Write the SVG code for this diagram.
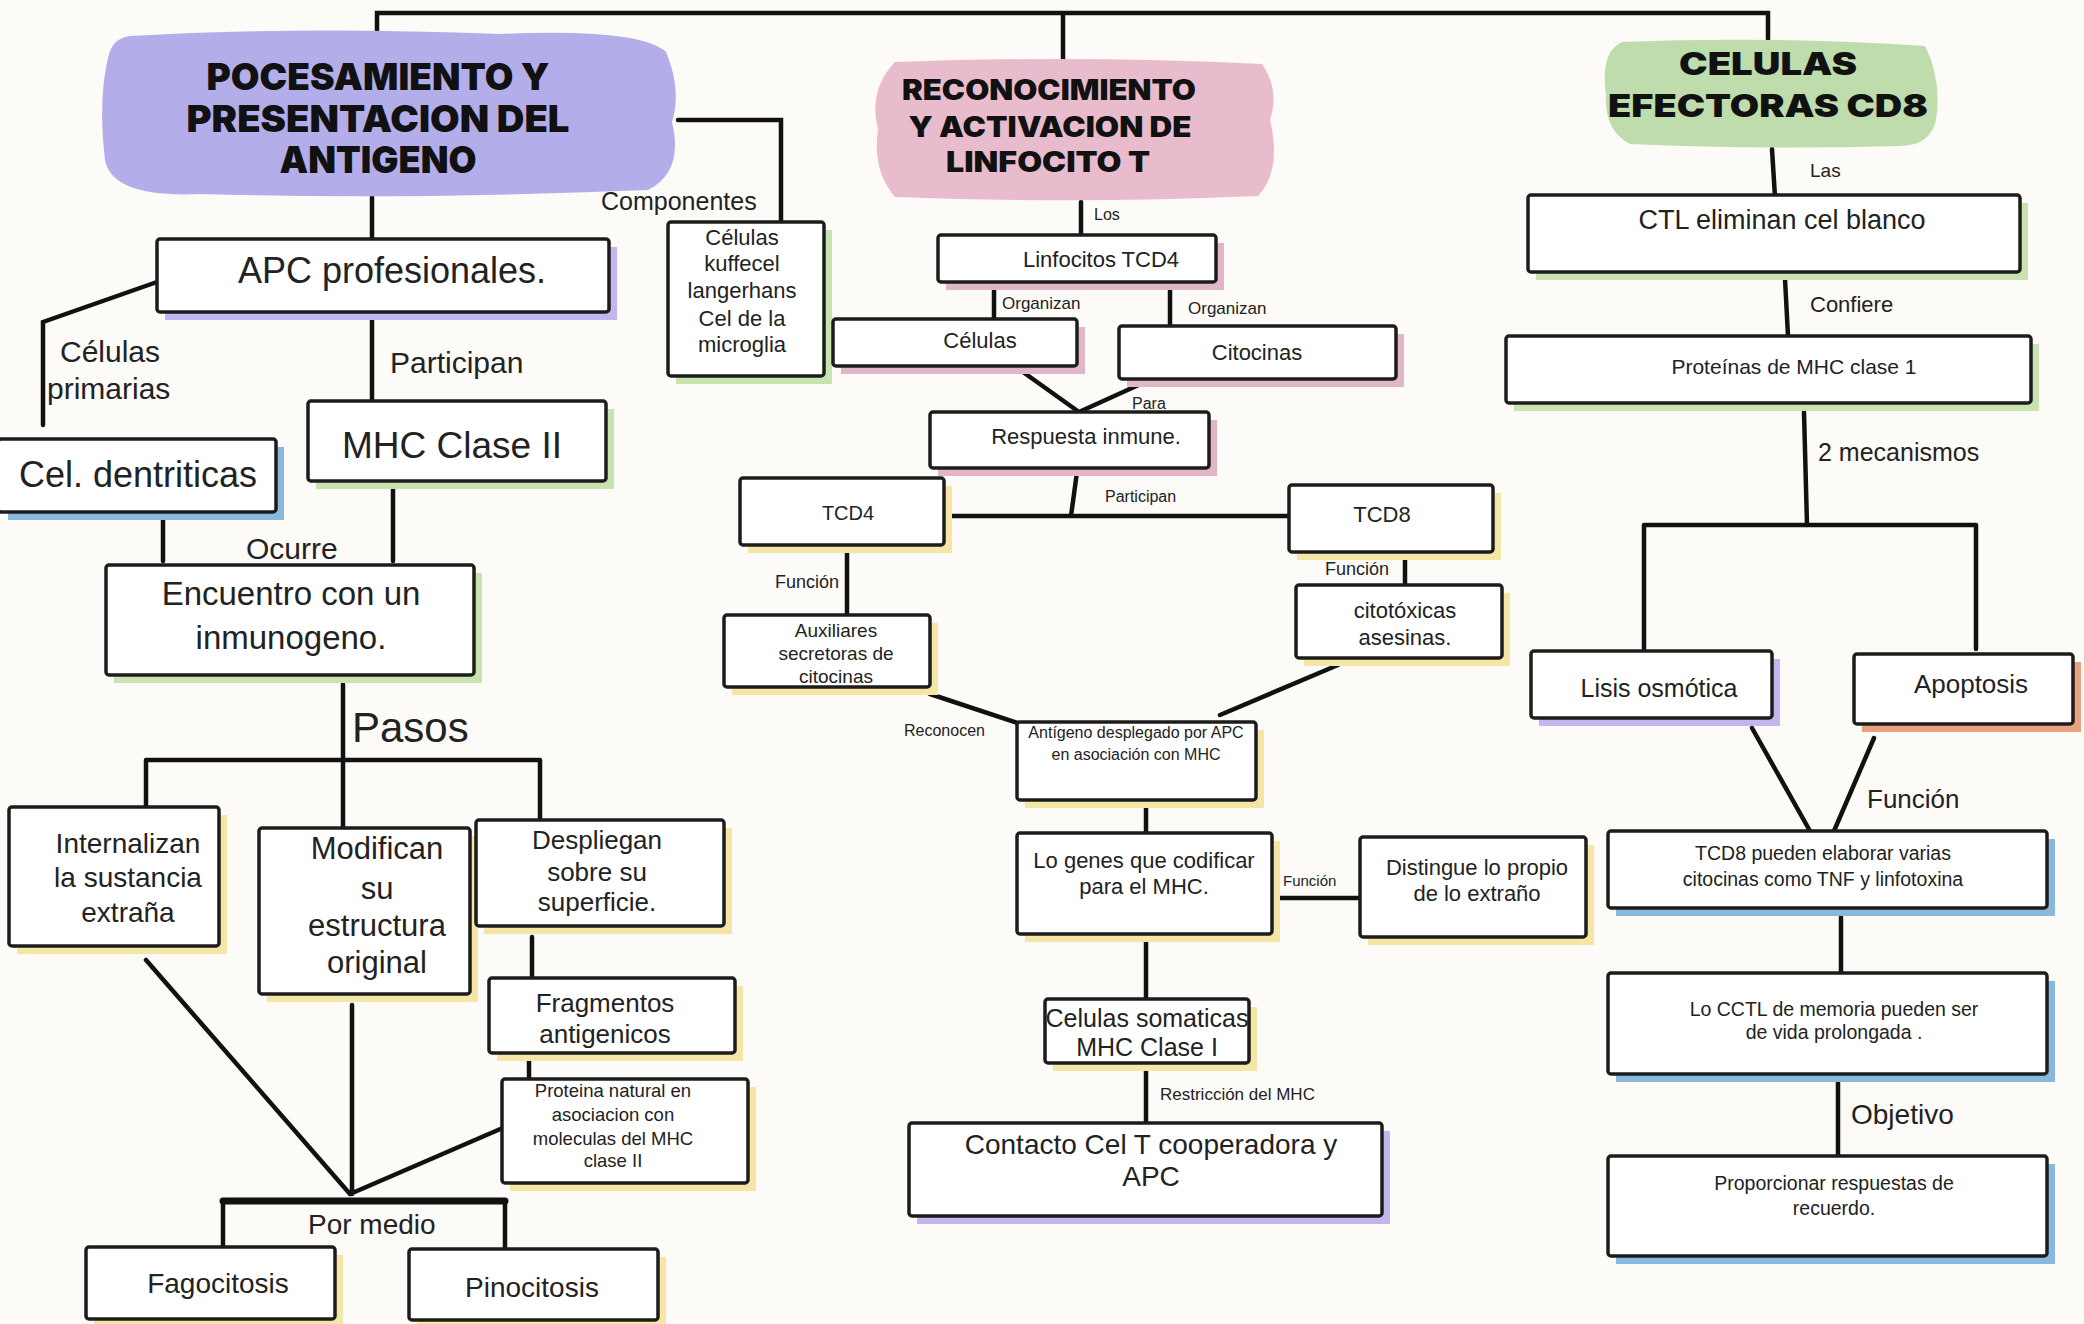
<svg xmlns="http://www.w3.org/2000/svg" width="2084" height="1324" viewBox="0 0 2084 1324">
<style>
.bg{fill:#fcfbf7}
.bx{fill:#ffffff;stroke:#1c1c1c;stroke-width:3.5;stroke-linejoin:round}
.sp{fill:#c3b6ee}.sg{fill:#c8e2b0}.sb{fill:#88b9dc}.sy{fill:#f5e6a6}.sk{fill:#e2b6c9}.so{fill:#e9a27f}
.t{font-family:"Liberation Sans",Arial,sans-serif;fill:#222;text-anchor:middle}
.l{font-family:"Liberation Sans",Arial,sans-serif;fill:#222}
.h{font-family:Inter,"DejaVu Sans",sans-serif;font-weight:900;fill:#111;text-anchor:middle}
.c{fill:none;stroke:#111;stroke-width:4.5;stroke-linecap:round;stroke-linejoin:miter}
</style>
<rect class="bg" x="0" y="0" width="2084" height="1324"/>

<g id="connectors">
<path class="c" d="M377 40 V13 H1768 V42 M1063 13 V60"/>
<path class="c" d="M372 197 V239 M678 120 H781 V222"/>
<path class="c" d="M157 282 L43 322 V425 M372 315 V399"/>
<path class="c" d="M163 516 V561 M393 485 V561"/>
<path class="c" d="M343 684 V760 M146 760 H540 M146 760 V811 M343 760 V831 M540 760 V821"/>
<path class="c" d="M532 937 V980 M529 1057 V1080"/>
<path class="c" d="M146 960 L350 1194 M352 1005 V1194 M505 1127 L350 1194"/>
<path class="c" d="M223 1201 H505" style="stroke-width:7"/>
<path class="c" d="M223 1201 V1249 M505 1201 V1252"/>
<path class="c" d="M1081 202 V237 M994 284 V322 M1170 284 V328"/>
<path class="c" d="M1023 372 L1079 412 M1143 383 L1079 412"/>
<path class="c" d="M1077 472 L1071 516 M944 516 H1289"/>
<path class="c" d="M847 552 V615 M1405 556 V585"/>
<path class="c" d="M930 694 L1021 724 M1338 665 L1220 715"/>
<path class="c" d="M1146 804 V835 M1276 898 H1362 M1146 941 V1001 M1146 1070 V1123"/>
<path class="c" d="M1772 149 L1775 197 M1785 279 L1788 336 M1804 412 L1807 525"/>
<path class="c" d="M1644 525 H1976 M1644 525 V649 M1976 525 V649"/>
<path class="c" d="M1752 728 L1810 831 M1874 738 L1834 831"/>
<path class="c" d="M1841 917 V974 M1838 1079 V1157"/>
</g>

<g id="labels">
<text class="l" x="601" y="210" font-size="25">Componentes</text>
<text class="l" x="60" y="362" font-size="30">Células</text>
<text class="l" x="47" y="399" font-size="30">primarias</text>
<text class="l" x="390" y="373" font-size="30">Participan</text>
<text class="l" x="246" y="559" font-size="30">Ocurre</text>
<text class="l" x="352" y="742" font-size="42">Pasos</text>
<text class="l" x="308" y="1234" font-size="28">Por medio</text>
<text class="l" x="1094" y="220" font-size="16">Los</text>
<text class="l" x="1002" y="309" font-size="17">Organizan</text>
<text class="l" x="1188" y="314" font-size="17">Organizan</text>
<text class="l" x="1132" y="409" font-size="16">Para</text>
<text class="l" x="1105" y="502" font-size="16">Participan</text>
<text class="l" x="775" y="588" font-size="18">Función</text>
<text class="l" x="1325" y="575" font-size="18">Función</text>
<text class="l" x="904" y="736" font-size="16">Reconocen</text>
<text class="l" x="1283" y="886" font-size="15">Función</text>
<text class="l" x="1160" y="1100" font-size="17">Restricción del MHC</text>
<text class="l" x="1810" y="177" font-size="19">Las</text>
<text class="l" x="1810" y="312" font-size="22">Confiere</text>
<text class="l" x="1818" y="461" font-size="25">2 mecanismos</text>
<text class="l" x="1867" y="808" font-size="26">Función</text>
<text class="l" x="1851" y="1124" font-size="28">Objetivo</text>
</g>

<g id="title1">
<path d="M130 36 Q300 26 500 34 Q640 28 666 52 Q682 90 672 122 Q684 172 648 190 Q400 200 200 194 Q112 198 105 160 Q98 100 108 58 Q112 38 130 36 Z" fill="#b3aee9"/>
<text class="h" x="378" y="90" font-size="37" textLength="343" lengthAdjust="spacingAndGlyphs">POCESAMIENTO Y</text>
<text class="h" x="378" y="132" font-size="37" textLength="383" lengthAdjust="spacingAndGlyphs">PRESENTACION DEL</text>
<text class="h" x="378" y="173" font-size="37" textLength="197" lengthAdjust="spacingAndGlyphs">ANTIGENO</text>
</g>
<g id="title2">
<path d="M895 62 Q1080 55 1262 64 Q1280 90 1270 120 Q1282 170 1258 196 Q1080 204 895 197 Q872 170 878 130 Q868 90 895 62 Z" fill="#e9bccd"/>
<text class="h" x="1049" y="100" font-size="28" textLength="294" lengthAdjust="spacingAndGlyphs">RECONOCIMIENTO</text>
<text class="h" x="1050" y="137" font-size="28" textLength="283" lengthAdjust="spacingAndGlyphs">Y ACTIVACION DE</text>
<text class="h" x="1048" y="172" font-size="28" textLength="204" lengthAdjust="spacingAndGlyphs">LINFOCITO T</text>
</g>
<g id="title3">
<path d="M1622 42 Q1770 36 1925 46 Q1942 80 1936 120 Q1930 146 1900 146 Q1760 150 1630 144 Q1604 130 1606 95 Q1600 52 1622 42 Z" fill="#bedcac"/>
<text class="h" x="1768" y="75" font-size="31" textLength="178" lengthAdjust="spacingAndGlyphs">CELULAS</text>
<text class="h" x="1768" y="117" font-size="31" textLength="320" lengthAdjust="spacingAndGlyphs">EFECTORAS CD8</text>
</g>

<g id="apc"><rect class="sp" x="165" y="247" width="452" height="73"/><rect class="bx" x="157" y="239" width="452" height="73" rx="3"/><text class="t" x="392" y="283" font-size="36">APC profesionales.</text></g>
<g id="dentriticas"><rect class="sb" x="8" y="447" width="276" height="73"/><rect class="bx" x="-2" y="439" width="278" height="73" rx="3"/><text class="t" x="138" y="487" font-size="36">Cel. dentriticas</text></g>
<g id="mhc2"><rect class="sg" x="316" y="409" width="298" height="80"/><rect class="bx" x="308" y="401" width="298" height="80" rx="3"/><text class="t" x="452" y="458" font-size="37">MHC Clase II</text></g>
<g id="encuentro"><rect class="sg" x="114" y="573" width="368" height="110"/><rect class="bx" x="106" y="565" width="368" height="110" rx="3"/><text class="t" x="291" y="605" font-size="33">Encuentro con un</text><text class="t" x="291" y="649" font-size="33">inmunogeno.</text></g>
<g id="internalizan"><rect class="sy" x="17" y="815" width="210" height="139"/><rect class="bx" x="9" y="807" width="210" height="139" rx="3"/><text class="t" x="128" y="853" font-size="28">Internalizan</text><text class="t" x="128" y="887" font-size="28">la sustancia</text><text class="t" x="128" y="922" font-size="28">extraña</text></g>
<g id="modifican"><rect class="sy" x="267" y="836" width="211" height="166"/><rect class="bx" x="259" y="828" width="211" height="166" rx="3"/><text class="t" x="377" y="859" font-size="31">Modifican</text><text class="t" x="377" y="899" font-size="31">su</text><text class="t" x="377" y="936" font-size="31">estructura</text><text class="t" x="377" y="973" font-size="31">original</text></g>
<g id="despliegan"><rect class="sy" x="484" y="828" width="248" height="106"/><rect class="bx" x="476" y="820" width="248" height="106" rx="3"/><text class="t" x="597" y="849" font-size="26">Despliegan</text><text class="t" x="597" y="881" font-size="26">sobre su</text><text class="t" x="597" y="911" font-size="26">superficie.</text></g>
<g id="fragmentos"><rect class="sy" x="497" y="986" width="246" height="75"/><rect class="bx" x="489" y="978" width="246" height="75" rx="3"/><text class="t" x="605" y="1012" font-size="26">Fragmentos</text><text class="t" x="605" y="1043" font-size="26">antigenicos</text></g>
<g id="proteina"><rect class="sy" x="510" y="1087" width="246" height="104"/><rect class="bx" x="502" y="1079" width="246" height="104" rx="3"/><text class="t" x="613" y="1097" font-size="18.5">Proteina natural en</text><text class="t" x="613" y="1121" font-size="18.5">asociacion con</text><text class="t" x="613" y="1145" font-size="18.5">moleculas del MHC</text><text class="t" x="613" y="1167" font-size="18.5">clase II</text></g>
<g id="fagocitosis"><rect class="sy" x="94" y="1255" width="249" height="72"/><rect class="bx" x="86" y="1247" width="249" height="72" rx="3"/><text class="t" x="218" y="1293" font-size="28">Fagocitosis</text></g>
<g id="pinocitosis"><rect class="sy" x="417" y="1257" width="249" height="71"/><rect class="bx" x="409" y="1249" width="249" height="71" rx="3"/><text class="t" x="532" y="1297" font-size="28">Pinocitosis</text></g>
<g id="componentes"><rect class="sg" x="676" y="230" width="156" height="154"/><rect class="bx" x="668" y="222" width="156" height="154" rx="3"/><text class="t" x="742" y="245" font-size="22">Células</text><text class="t" x="742" y="271" font-size="22">kuffecel</text><text class="t" x="742" y="298" font-size="22">langerhans</text><text class="t" x="742" y="326" font-size="22">Cel de la</text><text class="t" x="742" y="352" font-size="22">microglia</text></g>

<g id="linfocitos"><rect class="sk" x="946" y="243" width="278" height="47"/><rect class="bx" x="938" y="235" width="278" height="47" rx="3"/><text class="t" x="1101" y="267" font-size="22">Linfocitos TCD4</text></g>
<g id="celulas"><rect class="sk" x="841" y="327" width="244" height="47"/><rect class="bx" x="833" y="319" width="244" height="47" rx="3"/><text class="t" x="980" y="348" font-size="22">Células</text></g>
<g id="citocinas"><rect class="sk" x="1127" y="334" width="277" height="53"/><rect class="bx" x="1119" y="326" width="277" height="53" rx="3"/><text class="t" x="1257" y="360" font-size="22">Citocinas</text></g>
<g id="respuesta"><rect class="sk" x="938" y="420" width="279" height="56"/><rect class="bx" x="930" y="412" width="279" height="56" rx="3"/><text class="t" x="1086" y="444" font-size="22">Respuesta inmune.</text></g>
<g id="tcd4"><rect class="sy" x="748" y="486" width="204" height="67"/><rect class="bx" x="740" y="478" width="204" height="67" rx="3"/><text class="t" x="848" y="520" font-size="20">TCD4</text></g>
<g id="tcd8"><rect class="sy" x="1297" y="493" width="204" height="67"/><rect class="bx" x="1289" y="485" width="204" height="67" rx="3"/><text class="t" x="1382" y="522" font-size="22">TCD8</text></g>
<g id="auxiliares"><rect class="sy" x="732" y="623" width="206" height="72"/><rect class="bx" x="724" y="615" width="206" height="72" rx="3"/><text class="t" x="836" y="637" font-size="19">Auxiliares</text><text class="t" x="836" y="660" font-size="19">secretoras de</text><text class="t" x="836" y="683" font-size="19">citocinas</text></g>
<g id="citotoxicas"><rect class="sy" x="1304" y="593" width="206" height="73"/><rect class="bx" x="1296" y="585" width="206" height="73" rx="3"/><text class="t" x="1405" y="618" font-size="22">citotóxicas</text><text class="t" x="1405" y="645" font-size="22">asesinas.</text></g>
<g id="antigeno"><rect class="sy" x="1025" y="730" width="239" height="78"/><rect class="bx" x="1017" y="722" width="239" height="78" rx="3"/><text class="t" x="1136" y="738" font-size="16">Antígeno desplegado por APC</text><text class="t" x="1136" y="760" font-size="16">en asociación con MHC</text></g>
<g id="genes"><rect class="sy" x="1025" y="841" width="255" height="101"/><rect class="bx" x="1017" y="833" width="255" height="101" rx="3"/><text class="t" x="1144" y="868" font-size="22">Lo genes que codificar</text><text class="t" x="1144" y="894" font-size="22">para el MHC.</text></g>
<g id="distingue"><rect class="sy" x="1368" y="845" width="226" height="100"/><rect class="bx" x="1360" y="837" width="226" height="100" rx="3"/><text class="t" x="1477" y="875" font-size="22">Distingue lo propio</text><text class="t" x="1477" y="901" font-size="22">de lo extraño</text></g>
<g id="somaticas"><rect class="sy" x="1053" y="1007" width="204" height="64"/><rect class="bx" x="1045" y="999" width="204" height="64" rx="3"/><text class="t" x="1147" y="1027" font-size="25">Celulas somaticas</text><text class="t" x="1147" y="1056" font-size="25">MHC Clase I</text></g>
<g id="contacto"><rect class="sp" x="917" y="1131" width="473" height="93"/><rect class="bx" x="909" y="1123" width="473" height="93" rx="3"/><text class="t" x="1151" y="1154" font-size="28">Contacto Cel T cooperadora y</text><text class="t" x="1151" y="1186" font-size="28">APC</text></g>

<g id="ctl"><rect class="sg" x="1536" y="203" width="492" height="77"/><rect class="bx" x="1528" y="195" width="492" height="77" rx="3"/><text class="t" x="1782" y="229" font-size="27">CTL eliminan cel blanco</text></g>
<g id="proteinas"><rect class="sg" x="1514" y="344" width="525" height="67"/><rect class="bx" x="1506" y="336" width="525" height="67" rx="3"/><text class="t" x="1794" y="374" font-size="21">Proteínas de MHC clase 1</text></g>
<g id="lisis"><rect class="sp" x="1539" y="659" width="241" height="67"/><rect class="bx" x="1531" y="651" width="241" height="67" rx="3"/><text class="t" x="1659" y="697" font-size="25">Lisis osmótica</text></g>
<g id="apoptosis"><rect class="so" x="1862" y="662" width="219" height="70"/><rect class="bx" x="1854" y="654" width="219" height="70" rx="3"/><text class="t" x="1971" y="693" font-size="26">Apoptosis</text></g>
<g id="tcd8pueden"><rect class="sb" x="1616" y="839" width="439" height="77"/><rect class="bx" x="1608" y="831" width="439" height="77" rx="3"/><text class="t" x="1823" y="860" font-size="19.5">TCD8 pueden elaborar varias</text><text class="t" x="1823" y="886" font-size="19.5">citocinas como TNF y linfotoxina</text></g>
<g id="cctl"><rect class="sb" x="1616" y="981" width="439" height="101"/><rect class="bx" x="1608" y="973" width="439" height="101" rx="3"/><text class="t" x="1834" y="1016" font-size="19.5">Lo CCTL de memoria pueden ser</text><text class="t" x="1834" y="1039" font-size="19.5">de vida prolongada .</text></g>
<g id="proporcionar"><rect class="sb" x="1616" y="1164" width="439" height="100"/><rect class="bx" x="1608" y="1156" width="439" height="100" rx="3"/><text class="t" x="1834" y="1190" font-size="19.5">Proporcionar respuestas de</text><text class="t" x="1834" y="1215" font-size="19.5">recuerdo.</text></g>
</svg>
